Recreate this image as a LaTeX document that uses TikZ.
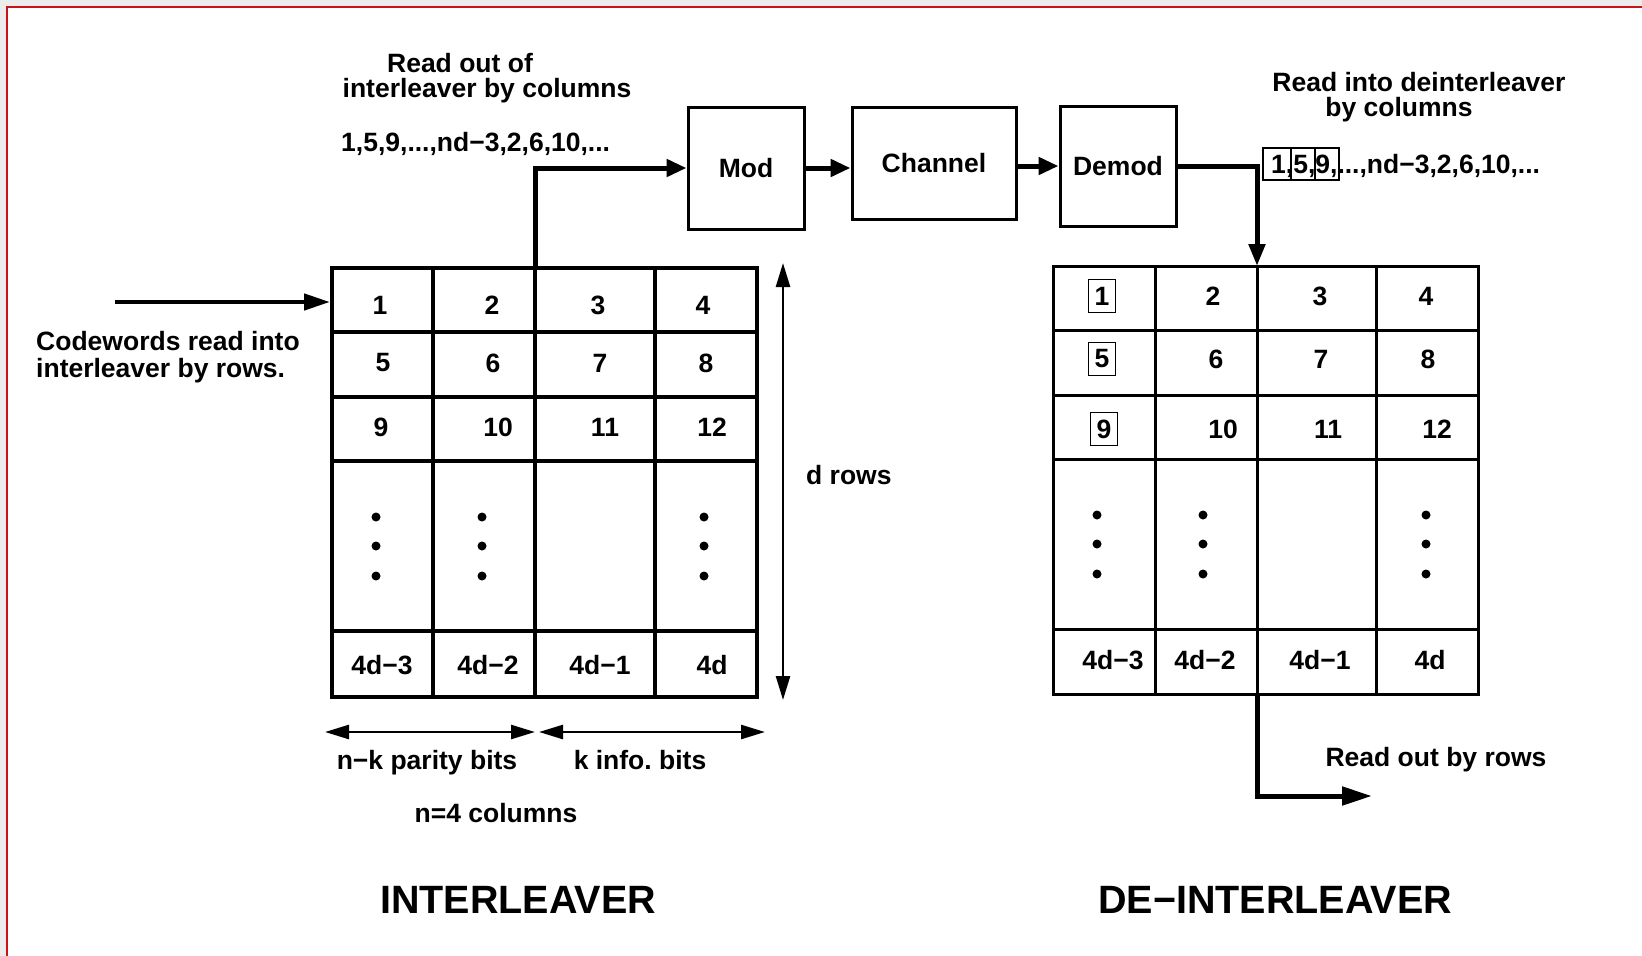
\documentclass[tikz,border=0pt]{standalone}
\usepackage{fontspec}
\setmainfont{Liberation Sans}
\usetikzlibrary{arrows.meta}
\definecolor{bordred}{RGB}{200,20,20}
\definecolor{bggray}{RGB}{236,236,236}
\frenchspacing
\begin{document}
\begin{tikzpicture}[x=1pt,y=-1pt,
  lbl/.style={font=\bfseries\fontsize{26.5}{32}\selectfont, inner sep=0pt},
  ttl/.style={font=\bfseries\fontsize{39.5}{46}\selectfont, inner sep=0pt},
  blk/.style={draw, line width=3pt, font=\bfseries\fontsize{26.5}{32}\selectfont, inner sep=0pt},
  boxd/.style={lbl, draw, line width=1.5pt, minimum width=27pt, minimum height=33pt},
  thk/.style={line width=5pt, -{Triangle[length=20pt,width=17pt]}},
  dimarr/.style={line width=2.5pt, {Triangle[length=24pt,width=14pt]}-{Triangle[length=24pt,width=14pt]}},
  dot/.style={fill=black}]
\useasboundingbox (0,0) rectangle (1642,956);
\fill[bggray] (0,0) rectangle (1642,956);
\fill[white] (7,7) rectangle (1642,956);
\draw[bordred, line width=2pt] (7,956) -- (7,7) -- (1642,7);

% ---------- top blocks ----------
\node[blk, minimum width=116pt, minimum height=122pt] (mod) at (746,168) {Mod};
\node[blk, minimum width=164pt, minimum height=112pt] (chan) at (934,163) {Channel};
\node[blk, minimum width=116pt, minimum height=120pt] (demod) at (1118,166) {Demod};

% ---------- interleaver grid ----------
\node[draw, line width=4pt, minimum width=425pt, minimum height=429pt, inner sep=0pt] (ilv) at (544.5,482.5) {};
\foreach \x in {433,535,655} \draw[line width=4pt] (\x,268) -- (\x,697);
\foreach \y in {332,397,461,631} \draw[line width=4pt] (332,\y) -- (757,\y);

\node[lbl] (i11) at (380,305) {1};
\node[lbl] (i12) at (492,305) {2};
\node[lbl] (i13) at (598,305) {3};
\node[lbl] (i14) at (703,305) {4};
\node[lbl] (i21) at (383,363) {5};
\node[lbl] (i22) at (493,363) {6};
\node[lbl] (i23) at (600,363) {7};
\node[lbl] (i24) at (706,363) {8};
\node[lbl] (i31) at (381,427) {9};
\node[lbl] (i32) at (498,427) {10};
\node[lbl] (i33) at (605,427) {11};
\node[lbl] (i34) at (712,427) {12};
\node[lbl] (i41) at (382,665) {4d−3};
\node[lbl] (i42) at (488,665) {4d−2};
\node[lbl] (i43) at (600,665) {4d−1};
\node[lbl] (i44) at (712,665) {4d};
\foreach \x in {376,482,704} \foreach \y in {517,546,576} \fill[dot] (\x,\y) circle (4.5pt);

% ---------- deinterleaver grid ----------
\node[draw, line width=3pt, minimum width=425pt, minimum height=428pt, inner sep=0pt] (dlv) at (1265.5,480) {};
\foreach \x in {1155,1257,1376} \draw[line width=3pt] (\x,266) -- (\x,694);
\foreach \y in {330,395,459,629} \draw[line width=3pt] (1053,\y) -- (1478,\y);

\node[boxd] (d11) at (1102,296) {1};
\node[lbl] (d12) at (1213,296) {2};
\node[lbl] (d13) at (1320,296) {3};
\node[lbl] (d14) at (1426,296) {4};
\node[boxd] (d21) at (1102,359) {5};
\node[lbl] (d22) at (1216,359) {6};
\node[lbl] (d23) at (1321,359) {7};
\node[lbl] (d24) at (1428,359) {8};
\node[boxd] (d31) at (1104,429) {9};
\node[lbl] (d32) at (1223,429) {10};
\node[lbl] (d33) at (1328,429) {11};
\node[lbl] (d34) at (1437,429) {12};
\node[lbl] (d41) at (1113,660) {4d−3};
\node[lbl] (d42) at (1205,660) {4d−2};
\node[lbl] (d43) at (1320,660) {4d−1};
\node[lbl] (d44) at (1430,660) {4d};
\foreach \x in {1097,1203,1426} \foreach \y in {515,544,574} \fill[dot] (\x,\y) circle (4.5pt);

% ---------- labels ----------
\node[lbl, anchor=base] (ro1) at (460,72) {Read out of};
\node[lbl, anchor=base] (ro2) at (487,97) {interleaver by columns};
\node[lbl, anchor=base west] (seqL) at (341,151) {1,5,9,...,nd−3,2,6,10,...};
\node[lbl, anchor=base west] (cw1) at (36,350) {Codewords read into};
\node[lbl, anchor=base west] (cw2) at (36,377) {interleaver by rows.};
\node[lbl, anchor=base west] (drows) at (806,484) {d rows};
\node[lbl, anchor=base] (nk) at (427,769) {n−k parity bits};
\node[lbl, anchor=base] (kinfo) at (640,769) {k info.\ bits};
\node[lbl, anchor=base] (ncol) at (496,822) {n=4 columns};
\node[ttl, anchor=base] (tI) at (518,913) {INTERLEAVER};
\node[ttl, anchor=base] (tD) at (1275,913) {DE−INTERLEAVER};
\node[lbl, anchor=base] (ri1) at (1419,91) {Read into deinterleaver};
\node[lbl, anchor=base] (ri2) at (1399,116) {by columns};
\node[lbl, anchor=base west] (seqR) at (1271,173) {1,5,9,...,nd−3,2,6,10,...};
\draw[line width=1.5pt] (1263,148) rectangle (1291,180) (1291,148) rectangle (1315,180) (1315,148) rectangle (1339,180);
\node[lbl, anchor=base] (rorows) at (1436,766) {Read out by rows};

% ---------- connectors ----------
\coordinate (inStart) at (115,302);
\draw[line width=4.5pt, -{Triangle[length=26pt,width=16pt]}] (inStart) -- (inStart -| ilv.west);
\coordinate (iout) at (535,270);
\draw[thk] (iout) |- (mod.west);
\draw[thk] (mod.east) -- (mod.east -| chan.west);
\draw[thk] (demod.west -| chan.east) -- (demod.west);
\coordinate (din) at (1257,266);
\draw[thk, -{Triangle[length=22pt,width=16pt]}] (demod.east) -| (din);
\coordinate (dout) at (1257,694);
\coordinate (rend) at (1372,796);
\draw[thk, -{Triangle[length=30pt,width=18pt]}] (dout) |- (rend);
\coordinate (dr1) at (783,263);
\coordinate (dr2) at (783,700);
\draw[dimarr] (dr1) -- (dr2);
\coordinate (pb1) at (325,732);
\coordinate (pb2) at (535,732);
\coordinate (kb1) at (539,732);
\coordinate (kb2) at (765,732);
\draw[dimarr] (pb1) -- (pb2);
\draw[dimarr] (kb1) -- (kb2);
\end{tikzpicture}
\end{document}
